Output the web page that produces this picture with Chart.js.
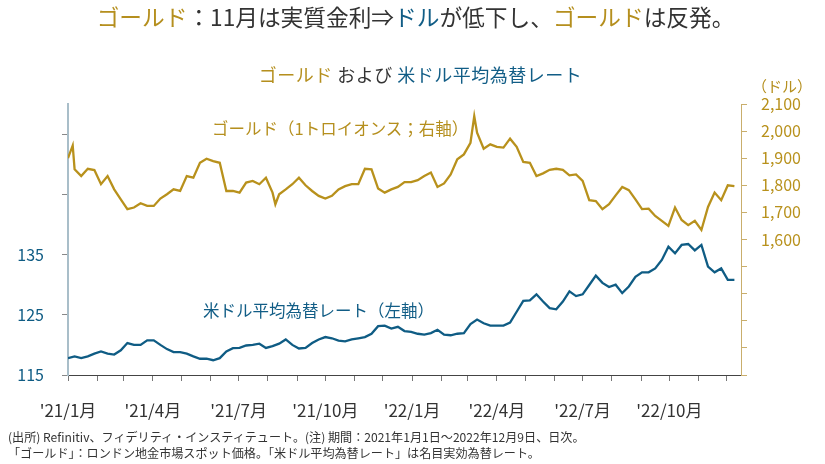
<!DOCTYPE html>
<html>
<head>
<meta charset="utf-8">
<script src="https://cdn.jsdelivr.net/npm/chart.js@4"></script>
<style>
  body { margin: 0; background: #fff; font-family: "Noto Sans CJK JP", "Noto Sans", sans-serif; }
  #wrap { position: relative; width: 825px; height: 464px; overflow: hidden; }
  #chart { position: absolute; left: 0; top: 0; }
  .txt { position: absolute; white-space: nowrap; line-height: 1; }
  .gold { color: #B58F1E; }
  .blue { color: #115D86; }
</style>
</head>
<body>
<div id="wrap">
  <canvas id="chart" width="825" height="464"></canvas>
  <div class="txt" style="left:3px;width:825px;text-align:center;top:6px;font-size:22.7px;font-weight:400;color:#333;">
    <span class="gold">ゴールド</span>：11月は実質金利⇒<span class="blue">ドル</span>が低下し、<span class="gold">ゴールド</span>は反発。</div>
  <div class="txt" style="left:8px;width:825px;text-align:center;top:65px;font-size:18px;letter-spacing:0.5px;color:#333;">
    <span class="gold">ゴールド</span> および <span class="blue">米ドル平均為替レート</span></div>
  <div class="txt gold" style="left:752px;top:78px;font-size:15px;">（ドル）</div>
  <div class="txt gold" style="left:212px;top:120px;font-size:16.5px;">ゴールド（1トロイオンス；右軸）</div>
  <div class="txt blue" style="left:203px;top:302px;font-size:16.5px;">米ドル平均為替レート（左軸）</div>
  <div class="txt" style="left:8px;top:431px;font-size:12.1px;color:#333;">(出所) Refinitiv、フィデリティ・インスティテュート。(注) 期間：2021年1月1日～2022年12月9日、日次。</div>
  <div class="txt" style="left:8px;top:447px;font-size:12.1px;color:#333;">「ゴールド」：ロンドン地金市場スポット価格。「米ドル平均為替レート」は名目実効為替レート。</div>
</div>
<script>
// x = days since 2021-01-01, one point per week (Fridays) up to 2022-12-09
const weekDays = [];
for (let d = 0; d <= 707; d += 7) weekDays.push(d);

// month starts (days since 2021-01-01) and their labels
const monthDays = [0, 31, 59, 90, 120, 151, 181, 212, 243, 273, 304, 334,
                   365, 396, 424, 455, 485, 516, 546, 577, 608, 638, 669, 699];
const monthLabels = ["'21/1月", '', '', "'21/4月", '', '', "'21/7月", '', '', "'21/10月", '', '',
                     "'22/1月", '', '', "'22/4月", '', '', "'22/7月", '', '', "'22/10月", '', ''];

// gold, USD per troy ounce (right axis)
const goldValues = [
  1900, 1859, 1834, 1861, 1856, 1804, 1834, 1785, 1748, 1712,
  1718, 1734, 1724, 1724, 1751, 1767, 1785, 1779, 1834, 1828,
  1883, 1898, 1889, 1883, 1779, 1779, 1773, 1810, 1816, 1804,
  1828, 1773, 1767, 1785, 1804, 1828, 1800, 1779, 1761, 1751,
  1761, 1785, 1797, 1804, 1804, 1861, 1859, 1788, 1773, 1785,
  1794, 1812, 1812, 1819, 1834, 1847, 1794, 1807, 1840, 1896,
  1914, 1957, 1994, 1935, 1951, 1942, 1939, 1972, 1942, 1886,
  1883, 1834, 1844, 1857, 1861, 1857, 1837, 1840, 1816, 1745,
  1742, 1712, 1730, 1763, 1794, 1782, 1748, 1712, 1714, 1687,
  1669, 1650, 1718, 1672, 1653, 1669, 1635, 1720, 1773, 1745,
  1800, 1797
];
// short-lived moves between the weekly points
const goldExtraDays = [5, 220, 431];
const goldExtraValues = [1947, 1730, 2055];

// US dollar nominal effective exchange rate (left axis)
const usdValues = [
  117.8, 118.1, 117.8, 118.1, 118.55, 118.9, 118.55, 118.4, 119.1, 120.3,
  120.0, 120.0, 120.75, 120.75, 120.0, 119.3, 118.8, 118.8, 118.55, 118.1,
  117.7, 117.7, 117.45, 117.8, 118.9, 119.45, 119.5, 119.9, 120.0, 120.2,
  119.5, 119.8, 120.2, 120.9, 120.0, 119.4, 119.5, 120.3, 120.9, 121.3,
  121.1, 120.7, 120.6, 120.9, 121.1, 121.3, 121.85, 123.1, 123.2, 122.7,
  123.0, 122.3, 122.15, 121.85, 121.7, 121.95, 122.5, 121.7, 121.6, 121.85,
  121.95, 123.45, 124.2, 123.6, 123.2, 123.2, 123.2, 123.7, 125.5, 127.3,
  127.4, 128.4, 127.2, 126.1, 125.9, 127.2, 128.9, 128.1, 128.4, 129.95,
  131.5, 130.3, 129.6, 130.0, 128.6, 129.7, 131.3, 132.05, 132.05, 132.7,
  134.1, 136.3, 135.2, 136.6, 136.75, 135.7, 136.6, 133.0, 132.05, 132.7,
  130.8, 130.8
];

const leftTicks = [115, 125, 135, 145, 155];

const GOLD = '#B8911C';
const BLUE = '#0F5C84';
const FONT = '"Noto Sans CJK JP", "Noto Sans", sans-serif';

const goldPoints = weekDays.map((d, i) => ({ x: d, y: goldValues[i] }))
  .concat(goldExtraDays.map((d, i) => ({ x: d, y: goldExtraValues[i] })))
  .sort((a, b) => a.x - b.x);
const usdPoints = weekDays.map((d, i) => ({ x: d, y: usdValues[i] }));

const ctx = document.getElementById('chart').getContext('2d');
const chart = new Chart(ctx, {
  type: 'line',
  data: {
    datasets: [{
      label: 'ゴールド',
      data: goldPoints,
      yAxisID: 'yR',
      borderColor: GOLD,
      borderWidth: 2.3,
      pointRadius: 0,
      tension: 0
    }, {
      label: '米ドル平均為替レート',
      data: usdPoints,
      yAxisID: 'yL',
      borderColor: BLUE,
      borderWidth: 2.3,
      pointRadius: 0,
      tension: 0
    }]
  },
  options: {
    responsive: false,
    animation: false,
    layout: { padding: { top: 104, left: 0, right: 0, bottom: 0 } },
    plugins: { legend: { display: false }, tooltip: { enabled: false } },
    scales: {
      x: {
        type: 'linear',
        min: 0,
        max: 714,
        afterBuildTicks: s => { s.ticks = monthDays.map(v => ({ value: v })); },
        afterFit: s => { s.height = 89; },
        ticks: {
          autoSkip: false,
          maxRotation: 0,
          padding: 19,
          color: '#333',
          font: { family: FONT, size: 17 },
          callback: (v) => monthLabels[monthDays.indexOf(v)] || ''
        },
        grid: { drawOnChartArea: false, tickLength: 6, color: '#777' },
        border: { color: '#444', width: 1 }
      },
      yL: {
        position: 'left',
        min: 115,
        max: 160,
        afterBuildTicks: s => { s.ticks = leftTicks.map(v => ({ value: v })); },
        afterFit: s => { s.width = 68; },
        ticks: {
          padding: 18,
          color: BLUE,
          font: { family: FONT, size: 16 },
          callback: v => (v <= 135 ? v : '')
        },
        grid: { drawOnChartArea: false, tickLength: 6, color: '#888' },
        border: { color: '#A9BEC9', width: 2 }
      },
      yR: {
        position: 'right',
        min: 1100,
        max: 2100,
        ticks: {
          stepSize: 100,
          padding: 14,
          color: GOLD,
          font: { family: FONT, size: 16 },
          callback: v => (v >= 1600 ? v.toLocaleString('en-US') : '')
        },
        afterFit: s => { s.width = 84; },
        grid: { drawOnChartArea: false, tickLength: 6, color: '#C9AE6C' },
        border: { color: '#C9AE6C', width: 1 }
      }
    }
  }
});
</script>
</body>
</html>
